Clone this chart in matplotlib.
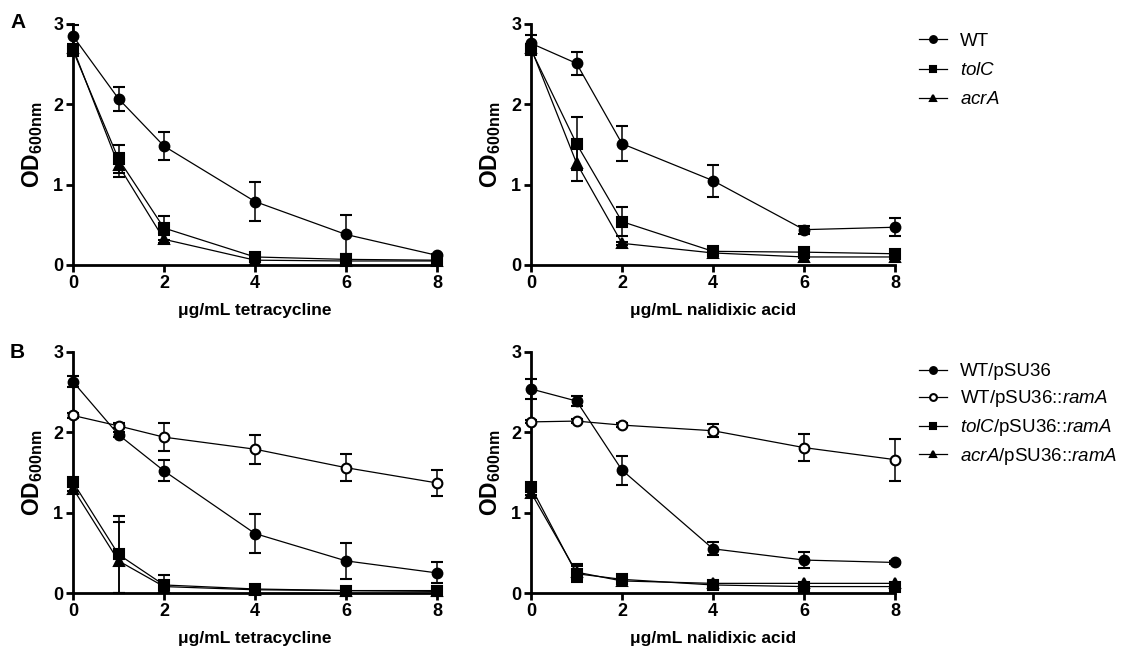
# Growth of efflux mutants in tetracycline / nalidixic acid (OD600 dose response)

import matplotlib
matplotlib.use("Agg")
import matplotlib.pyplot as plt

plt.rcParams['font.family'] = ['Liberation Sans', 'DejaVu Sans']
plt.rcParams['mathtext.fontset'] = 'custom'
plt.rcParams['mathtext.rm'] = 'Liberation Sans'
plt.rcParams['mathtext.it'] = 'Liberation Sans:italic'
plt.rcParams['mathtext.bf'] = 'Liberation Sans:bold'

conc = [0, 1, 2, 4, 6, 8]

# Panel A, tetracycline
a_tet_wt = [2.85, 2.07, 1.48, 0.79, 0.38, 0.12]
a_tet_wt_err = [0.14, 0.15, 0.17, 0.24, 0.24, 0.02]
a_tet_tolc = [2.67, 1.32, 0.46, 0.10, 0.07, 0.06]
a_tet_tolc_err = [0.05, 0.17, 0.15, 0.02, 0.01, 0.01]
a_tet_acra = [2.70, 1.24, 0.32, 0.06, 0.05, 0.05]
a_tet_acra_err = [0.05, 0.15, 0.05, 0.01, 0.01, 0.01]

# Panel A, nalidixic acid
a_nal_wt = [2.76, 2.51, 1.51, 1.05, 0.44, 0.47]
a_nal_wt_err = [0.10, 0.14, 0.22, 0.20, 0.05, 0.11]
a_nal_tolc = [2.68, 1.51, 0.54, 0.17, 0.16, 0.14]
a_nal_tolc_err = [0.05, 0.33, 0.18, 0.02, 0.02, 0.02]
a_nal_acra = [2.70, 1.27, 0.27, 0.15, 0.10, 0.10]
a_nal_acra_err = [0.05, 0.23, 0.02, 0.01, 0.01, 0.01]

# Panel B, tetracycline
b_tet_wt = [2.63, 1.97, 1.52, 0.74, 0.40, 0.25]
b_tet_wt_err = [0.07, 0.03, 0.13, 0.24, 0.22, 0.13]
b_tet_ram = [2.21, 2.08, 1.94, 1.79, 1.56, 1.37]
b_tet_ram_err = [0.03, 0.03, 0.17, 0.18, 0.17, 0.16]
b_tet_tolc = [1.38, 0.48, 0.10, 0.05, 0.03, 0.03]
b_tet_tolc_err = [0.03, 0.48, 0.12, 0.01, 0.01, 0.01]
b_tet_acra = [1.30, 0.40, 0.08, 0.04, 0.03, 0.02]
b_tet_acra_err = [0.03, 0.48, 0.03, 0.01, 0.01, 0.01]

# Panel B, nalidixic acid
b_nal_wt = [2.54, 2.39, 1.53, 0.55, 0.41, 0.38]
b_nal_wt_err = [0.12, 0.06, 0.18, 0.08, 0.10, 0.02]
b_nal_ram = [2.13, 2.14, 2.09, 2.02, 1.81, 1.66]
b_nal_ram_err = [0.02, 0.02, 0.02, 0.08, 0.17, 0.26]
b_nal_tolc = [1.32, 0.24, 0.17, 0.10, 0.08, 0.08]
b_nal_tolc_err = [0.03, 0.10, 0.02, 0.01, 0.01, 0.01]
b_nal_acra = [1.25, 0.26, 0.15, 0.12, 0.12, 0.12]
b_nal_acra_err = [0.03, 0.10, 0.02, 0.01, 0.01, 0.01]

labels_a = ["WT", "$\\mathit{tolC}$", "$\\mathit{acrA}$"]
labels_b = ["WT/pSU36", "WT/pSU36::$\\mathit{ramA}$",
            "$\\mathit{tolC}$/pSU36::$\\mathit{ramA}$",
            "$\\mathit{acrA}$/pSU36::$\\mathit{ramA}$"]

fig = plt.figure(figsize=(11.28, 6.53), dpi=100)

W = 364 / 1128
H = 241 / 653
ax_a1 = fig.add_axes([73 / 1128, 1 - 265 / 653, W, H])
ax_a2 = fig.add_axes([531 / 1128, 1 - 265 / 653, W, H])
ax_b1 = fig.add_axes([73 / 1128, 1 - 593 / 653, W, H])
ax_b2 = fig.add_axes([531 / 1128, 1 - 593 / 653, W, H])


def series(ax, y, err, marker, fill, label):
    # OD can't go below zero, so the lower bar stops at the axis
    lower = [min(e, v) for e, v in zip(err, y)]
    ax.errorbar(conc, y, yerr=[lower, err], color='black', marker=marker, markersize=7,
                markerfacecolor='black' if fill else 'white', markeredgewidth=1.5,
                linewidth=0.9, elinewidth=1.1, capsize=4.5, capthick=1.1,
                clip_on=False, zorder=3, label=label)


def style(ax, xlabel):
    ax.set_xlim(0, 8)
    ax.set_ylim(0, 3)
    ax.set_xticks([0, 2, 4, 6, 8])
    ax.set_yticks([0, 1, 2, 3])
    for s in ['top', 'right']:
        ax.spines[s].set_visible(False)
    for s in ['left', 'bottom']:
        ax.spines[s].set_linewidth(2)
    ax.tick_params(direction='out', length=5, width=2, labelsize=13, pad=2)
    for t in ax.get_xticklabels() + ax.get_yticklabels():
        t.set_fontweight('bold')
    ax.set_xlabel("\u03bcg/mL " + xlabel, fontsize=12.5, fontweight='bold', labelpad=8)
    ax.set_ylabel("OD$_{\\mathbf{600nm}}$", fontsize=16.5, fontweight='bold', labelpad=6)


series(ax_a1, a_tet_wt, a_tet_wt_err, 'o', True, labels_a[0])
series(ax_a1, a_tet_tolc, a_tet_tolc_err, 's', True, labels_a[1])
series(ax_a1, a_tet_acra, a_tet_acra_err, '^', True, labels_a[2])
style(ax_a1, "tetracycline")

series(ax_a2, a_nal_wt, a_nal_wt_err, 'o', True, labels_a[0])
series(ax_a2, a_nal_tolc, a_nal_tolc_err, 's', True, labels_a[1])
series(ax_a2, a_nal_acra, a_nal_acra_err, '^', True, labels_a[2])
style(ax_a2, "nalidixic acid")

series(ax_b1, b_tet_wt, b_tet_wt_err, 'o', True, labels_b[0])
series(ax_b1, b_tet_ram, b_tet_ram_err, 'o', False, labels_b[1])
series(ax_b1, b_tet_tolc, b_tet_tolc_err, 's', True, labels_b[2])
series(ax_b1, b_tet_acra, b_tet_acra_err, '^', True, labels_b[3])
style(ax_b1, "tetracycline")

series(ax_b2, b_nal_wt, b_nal_wt_err, 'o', True, labels_b[0])
series(ax_b2, b_nal_ram, b_nal_ram_err, 'o', False, labels_b[1])
series(ax_b2, b_nal_tolc, b_nal_tolc_err, 's', True, labels_b[2])
series(ax_b2, b_nal_acra, b_nal_acra_err, '^', True, labels_b[3])
style(ax_b2, "nalidixic acid")

# legends, without error bars in the handles
for ax, anchor, sp in [(ax_a2, (1.035, 1.01), 0.64), (ax_b2, (1.035, 1.0), 0.42)]:
    handles, labels = ax.get_legend_handles_labels()
    handles = [h[0] for h in handles]
    ax.legend(handles, labels, loc='upper left', bbox_to_anchor=anchor, frameon=False,
              fontsize=13.5, handlelength=1.5, handletextpad=0.7, labelspacing=sp,
              markerscale=0.7, borderaxespad=0.2)

fig.text(10 / 1128, 1 - 22 / 653, "A", fontsize=15, fontweight='bold', va='center')
fig.text(10 / 1128, 1 - 352 / 653, "B", fontsize=15, fontweight='bold', va='center')

fig.savefig("out.png", dpi=100)
